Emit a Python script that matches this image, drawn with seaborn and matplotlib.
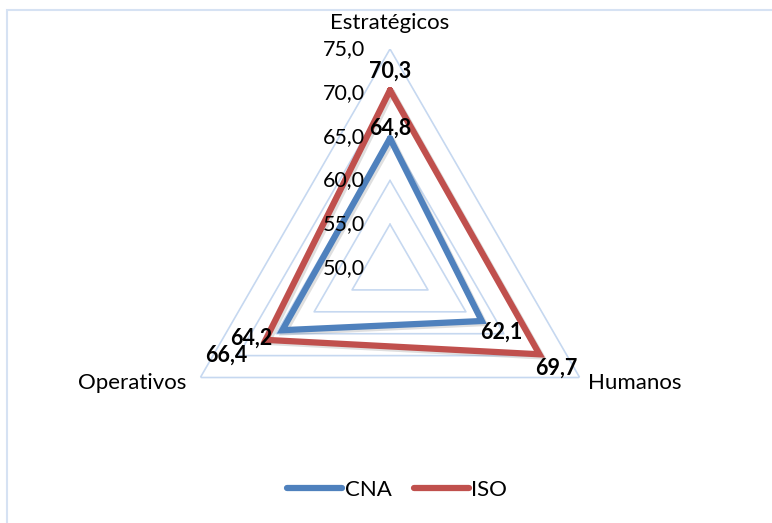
import numpy as np
import pandas as pd
import matplotlib
matplotlib.use("Agg")
import matplotlib.pyplot as plt
import matplotlib.patheffects as pe
from matplotlib.patches import Rectangle
import seaborn as sns

# ==========================================
# 資料
# ==========================================
categorias = ["Estratégicos", "Humanos", "Operativos"]
cna = [64.8, 62.1, 64.2]
iso = [70.3, 69.7, 66.4]
series = ["CNA", "ISO"]
ticks = [50.0, 55.0, 60.0, 65.0, 70.0, 75.0]

colores = {"CNA": "#4F81BD", "ISO": "#C0504D"}
grid_color = "#C6D8F0"

sns.set_theme(style="white")
plt.rcParams["font.family"] = ["Lato", "DejaVu Sans"]
plt.rcParams["text.color"] = "black"

n = len(categorias)
ang = np.linspace(0, 2 * np.pi, n, endpoint=False)
ang_cerrado = np.append(ang, 2 * np.pi)

rows = []
for s, vals in zip(series, [cna, iso]):
    v = list(vals) + [vals[0]]
    for a, r in zip(ang_cerrado, v):
        rows.append({"theta": a, "r": r, "serie": s})
df = pd.DataFrame(rows)

fig = plt.figure(figsize=(7.72, 5.23), dpi=100)
ax = fig.add_axes([0.2215, 0.0688, 0.5674, 0.8375], projection="polar")
ax.set_theta_offset(np.pi / 2)
ax.set_theta_direction(-1)
ax.set_ylim(ticks[0], ticks[-1])
ax.grid(False)
ax.spines["polar"].set_visible(False)
ax.set_xticks([])
ax.set_yticks([])
ax.patch.set_alpha(0)

# 三角形格線
for t in ticks[1:]:
    ax.plot(ang_cerrado, [t] * (n + 1), color=grid_color, lw=1.2, zorder=1)

# 資料線
sns.lineplot(data=df, x="theta", y="r", hue="serie", palette=colores, sort=False,
             estimator=None, lw=4.5, solid_joinstyle="miter", ax=ax, zorder=3,
             path_effects=[pe.SimpleLineShadow(offset=(1.5, -1.5), alpha=0.25, shadow_color="gray"),
                           pe.Normal()])
ax.set_xlabel("")
ax.set_ylabel("")
ax.get_legend().remove()

# 軸刻度標籤
for t in ticks:
    ax.annotate(f"{t:.1f}".replace(".", ","), (0, t), xytext=(-18, 0), textcoords="offset points",
                ha="right", va="center", fontsize=15.5, color="black")

# 類別標籤
cat_off = [(0, 19, "center"), (6, -4, "left"), (-10, -4, "right")]
for a, c, (dx, dy, ha) in zip(ang, categorias, cat_off):
    ax.annotate(c, (a, ticks[-1]), xytext=(dx, dy), textcoords="offset points",
                ha=ha, va="center", fontsize=16, color="black")

# 數值標籤
lab_off = {"CNA": [(0, 7), (14, -8), (-22, -6)],
           "ISO": [(0, 14), (12, -10), (-28, -11)]}
for s, vals in zip(series, [cna, iso]):
    for a, v, (dx, dy) in zip(ang, vals, lab_off[s]):
        ax.annotate(f"{v:.1f}".replace(".", ","), (a, v), xytext=(dx, dy), textcoords="offset points",
                    ha="center", va="center", fontsize=15.5, fontweight="bold", color="black", zorder=5)

handles = [plt.Line2D([], [], color=colores[s], lw=4.5, solid_capstyle="round") for s in series]
leg = fig.legend(handles, series, loc="center", bbox_to_anchor=(397 / 772, 1 - 490 / 523), ncol=2,
                 frameon=False, fontsize=16, handlelength=2.5, handletextpad=0.1, columnspacing=1.0)
for txt in leg.get_texts():
    txt.set_color("black")

fig.add_artist(Rectangle((7 / 772, -0.2), 1.2, 1 - 10 / 523 + 0.2, transform=fig.transFigure,
                         fill=False, edgecolor="#D6E2F3", lw=1.5))

fig.savefig("out.png", dpi=100)
